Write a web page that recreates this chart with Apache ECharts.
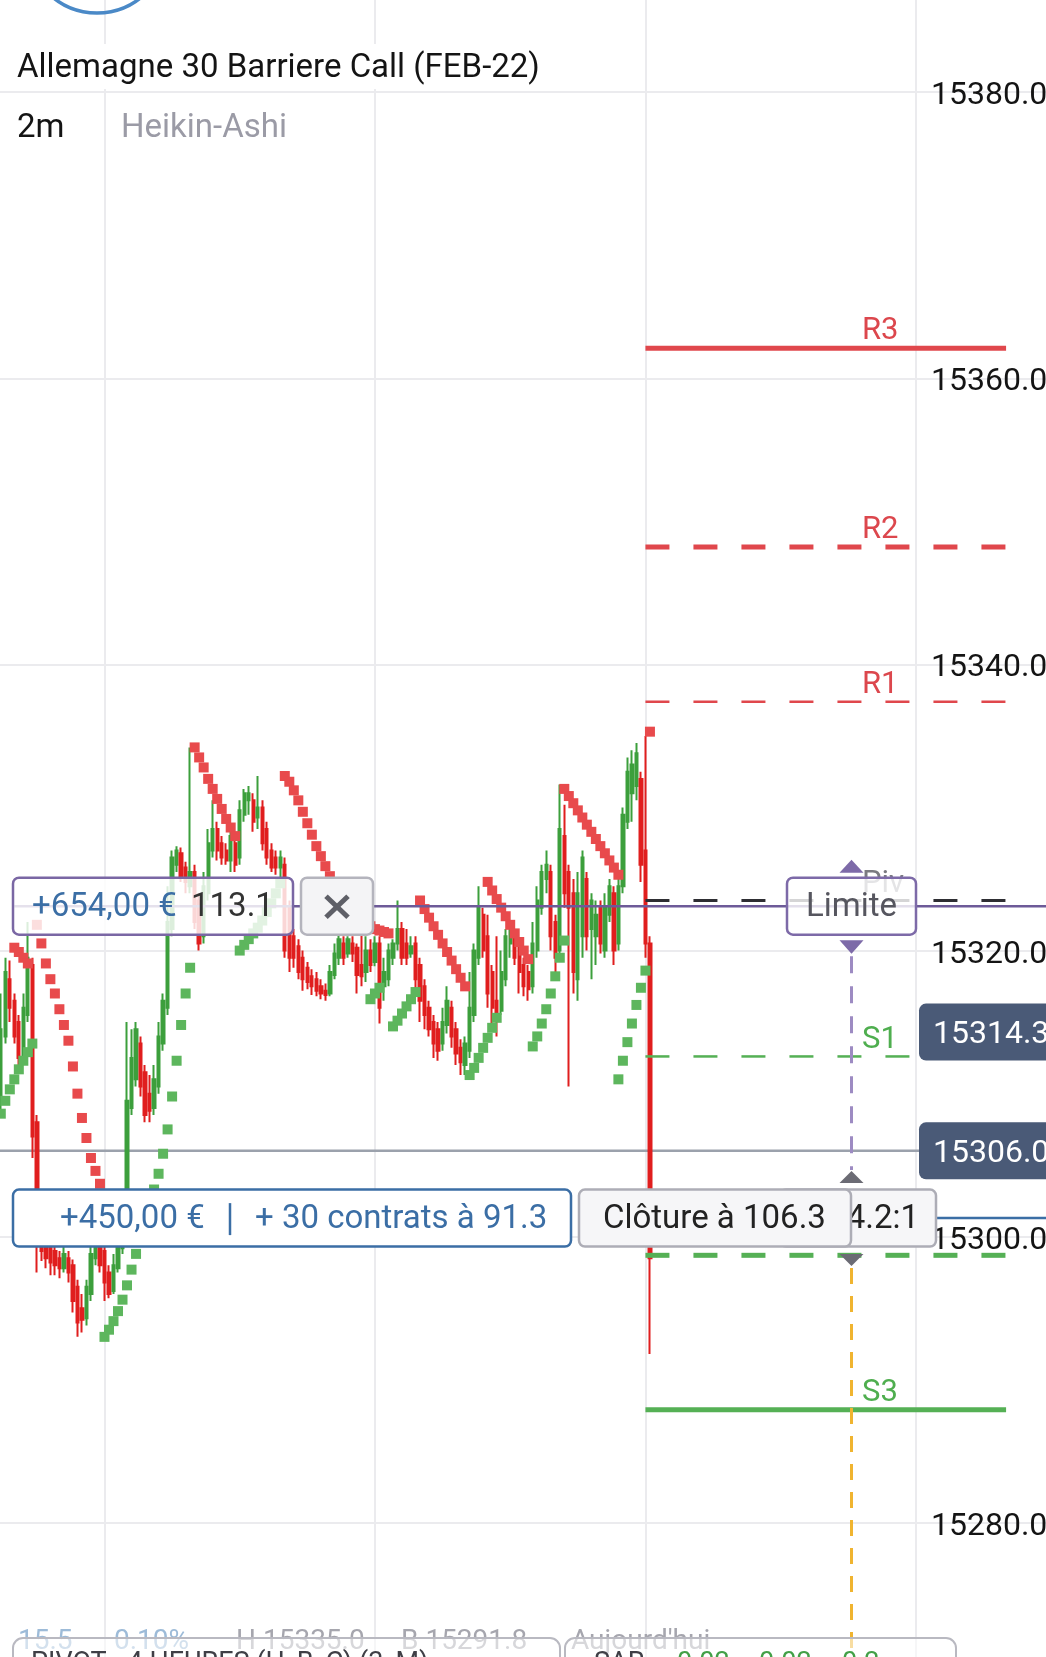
<!DOCTYPE html>
<html>
<head>
<meta charset="utf-8">
<script src="https://cdn.jsdelivr.net/npm/echarts@6/dist/echarts.min.js"></script>
<style>
  html, body { margin: 0; padding: 0; background: #fff; overflow: hidden; }
  #frame { position: relative; width: 1046px; height: 1657px; overflow: hidden; }
  #chart { position: absolute; left: -166px; top: -194px; width: 1240px; height: 2003px; }
</style>
</head>
<body>
<div id="frame"><div id="chart"></div></div>
<script>
// ---- Heikin-Ashi candles, 2-minute bars (oldest first) ----
const haOpen = [
  15309.5, 15314, 15318, 15316.5, 15315, 15312.5, 15315.5, 15319, 15308, 15302,
  15300, 15299.5, 15299, 15298.5, 15297.8, 15298.5, 15298, 15296.5, 15295, 15294.3,
  15296, 15298.5, 15299.5, 15299, 15297.5, 15296.2, 15297.8, 15299.2, 15302, 15309,
  15311, 15313.5, 15311.5, 15310, 15309, 15310.5, 15313.5, 15316, 15321.5, 15326,
  15326.8, 15325.8, 15324.5, 15325.5, 15323.5, 15321, 15324, 15327, 15328.5, 15327.5,
  15327, 15326.3, 15327.5, 15326.5, 15329.5, 15330.5, 15330.5, 15329.3, 15330, 15328.5,
  15327, 15326.5, 15325.8, 15326, 15323, 15321, 15320.3, 15319.5, 15318.8, 15318.2,
  15318, 15317.5, 15317.2, 15317, 15318.3, 15319.5, 15320.5, 15319.8, 15320.5, 15320.2,
  15319, 15318.5, 15320, 15319.2, 15320.5, 15317.5, 15318, 15319.5, 15320.5, 15321.5,
  15320.5, 15319.8, 15320.5, 15319, 15317.5, 15316, 15315, 15314.5, 15313.5, 15314.8,
  15316, 15314.5, 15313.2, 15312, 15313, 15315.5, 15319.5, 15322.5, 15321, 15318.5,
  15316.5, 15315.8, 15318, 15320.5, 15321, 15320, 15319, 15318.5, 15317.5, 15320,
  15323, 15325, 15325.5, 15322, 15320, 15328, 15325.5, 15324, 15318, 15321,
  15325, 15321.5, 15321, 15323, 15320, 15322.5, 15324, 15320.5, 15324.5, 15329,
  15331, 15331.5, 15332, 15327, 15320.5
];
const haClose = [
  15314.5, 15318.5, 15316, 15314, 15312.5, 15316, 15319.5, 15307, 15301, 15299,
  15298.5, 15298.2, 15298, 15297.8, 15298.8, 15297.5, 15295.5, 15294, 15294.2, 15296.5,
  15298.8, 15299.8, 15298, 15296.8, 15296, 15298, 15299.5, 15301.5, 15309.5, 15312.5,
  15314.5, 15310.5, 15308.5, 15308.8, 15311, 15314, 15316.5, 15322, 15326.5, 15327,
  15325.2, 15324.8, 15325.5, 15322, 15320.5, 15324.5, 15327.5, 15328.5, 15327, 15326.5,
  15326.3, 15328, 15326, 15329.8, 15331, 15331, 15329, 15330, 15327.5, 15326.5,
  15325.8, 15325.8, 15326.5, 15320, 15319.5, 15319.5, 15318.5, 15318, 15317.8, 15317.5,
  15317.2, 15317, 15316.9, 15318.5, 15319.8, 15320.8, 15319.5, 15320.8, 15319.8, 15318.3,
  15318.2, 15320, 15319, 15320.5, 15316, 15318.5, 15320, 15320.5, 15321.5, 15319.5,
  15319.5, 15320.3, 15318, 15316.5, 15315.5, 15314.5, 15313.5, 15313, 15315, 15316.5,
  15314, 15312.8, 15312.2, 15313.5, 15316, 15320, 15323, 15320, 15317, 15316,
  15315.5, 15318.5, 15321, 15321.3, 15319.5, 15318.5, 15317.5, 15317.3, 15320.5, 15323.5,
  15325.5, 15326, 15321, 15319.5, 15328.5, 15324, 15323, 15318.5, 15324, 15326.5,
  15321, 15323.5, 15322.5, 15320.5, 15323, 15324.5, 15320, 15324.5, 15329.5, 15332.5,
  15333, 15333.8, 15326, 15320.5, 15298.5
];
const haLow = [
  15308.5, 15313.5, 15315, 15313.5, 15311.5, 15312, 15315, 15305.5, 15297.5, 15298.3,
  15297.8, 15297.3, 15297.3, 15297.1, 15297.5, 15296.8, 15294.7, 15293, 15293.3, 15293.8,
  15295.5, 15298, 15297.5, 15295.5, 15295.7, 15296, 15297.5, 15298.8, 15301.5, 15308.5,
  15310.5, 15309.8, 15308, 15308, 15308.5, 15310, 15313, 15315.5, 15321, 15325.5,
  15324.8, 15324, 15324, 15321.5, 15320, 15320.5, 15323.5, 15326.5, 15326.3, 15326,
  15326, 15325.5, 15325.5, 15326, 15329, 15329.5, 15328.3, 15328.5, 15327, 15326,
  15325.5, 15325.3, 15325, 15319.5, 15318.5, 15318.8, 15318, 15317.2, 15317.3, 15316.9,
  15316.8, 15316.6, 15316.5, 15316.8, 15318, 15319, 15319, 15319.5, 15319.2, 15317,
  15317.5, 15317.8, 15318.5, 15318.9, 15314.9, 15316.5, 15317.5, 15319, 15320, 15319,
  15319, 15319.5, 15317, 15315, 15314.5, 15314, 15312.5, 15312.3, 15313, 15314.2,
  15313.2, 15312, 15311.3, 15311.3, 15312.5, 15315, 15319, 15319.5, 15316, 15314.5,
  15314, 15315.5, 15317.5, 15319.5, 15319, 15317, 15316.8, 15316.5, 15317, 15319.5,
  15322.5, 15324, 15320, 15318.5, 15319.5, 15323, 15310.5, 15317, 15316.5, 15319.5,
  15320, 15318, 15319, 15319.8, 15319.5, 15322, 15319, 15320, 15324, 15328.5,
  15329, 15330.5, 15324.8, 15319.5, 15291.8
];
const haHigh = [
  15317, 15319.5, 15319.3, 15317, 15315.5, 15317, 15322, 15319.5, 15308.5, 15302.5,
  15300.5, 15300, 15299.5, 15299, 15299.5, 15299, 15298.4, 15297, 15296, 15297,
  15299.5, 15301, 15300, 15299.5, 15298, 15298.8, 15300, 15302, 15315, 15314.5,
  15315, 15314, 15312, 15311.3, 15312, 15315, 15317, 15324.5, 15327, 15327.3,
  15327.2, 15326.2, 15334.2, 15326, 15324, 15325.5, 15328.5, 15330.5, 15329, 15328,
  15327.5, 15328.5, 15328, 15330.5, 15331.3, 15331.5, 15331, 15332.2, 15330.5, 15329,
  15327.5, 15327, 15327, 15326.5, 15323.5, 15321.5, 15320.8, 15320, 15319.2, 15318.7,
  15318.5, 15318, 15317.7, 15319, 15320.5, 15321.5, 15321, 15321, 15321, 15320.5,
  15321.3, 15321, 15320.8, 15321, 15321, 15319.5, 15320.5, 15320.8, 15323.5, 15322,
  15321.5, 15321, 15321, 15319.5, 15318, 15316.5, 15315.5, 15315, 15316, 15317.5,
  15316.5, 15315, 15313.8, 15314, 15318.5, 15320.5, 15324.5, 15323, 15322.5, 15319,
  15321, 15320, 15321.5, 15321.6, 15321, 15320.5, 15319.5, 15319, 15322, 15324.5,
  15326, 15327, 15326, 15322.5, 15331.6, 15330.2, 15326, 15325, 15325.5, 15327,
  15325.5, 15324, 15323.5, 15323.5, 15324, 15325, 15324.5, 15325, 15330, 15333.5,
  15334, 15334.5, 15332.5, 15335.0, 15321
];

// ---- Parabolic SAR dots: [bar number, value] ----
const sarBull = [
  [0, 15308.6], [1, 15309.5], [2, 15310.3], [3, 15311.0], [4, 15311.7], [5, 15312.3], [6, 15312.9], [7, 15313.5],
  [23, 15293.0], [24, 15293.5], [25, 15294.1], [26, 15294.8], [27, 15295.6], [28, 15296.6], [29, 15297.7],
  [30, 15298.8], [31, 15299.9], [32, 15301.0], [33, 15302.2], [34, 15303.3], [35, 15304.4], [36, 15305.8],
  [37, 15307.5], [38, 15309.8], [39, 15312.3], [40, 15314.8], [41, 15317.0], [42, 15318.8],
  [53, 15320.0], [54, 15320.4], [55, 15320.8], [56, 15321.2], [57, 15321.6], [58, 15322.1], [59, 15322.7],
  [60, 15323.3], [61, 15324.0], [62, 15324.7],
  [82, 15316.6], [83, 15317.0], [84, 15317.4],
  [87, 15314.7], [88, 15315.1], [89, 15315.6], [90, 15316.1], [91, 15316.6], [92, 15317.1],
  [104, 15311.3], [105, 15311.8], [106, 15312.5], [107, 15313.2], [108, 15313.9], [109, 15314.6], [110, 15315.3],
  [118, 15313.3], [119, 15314.0], [120, 15314.9], [121, 15315.9], [122, 15317.0], [123, 15318.2], [124, 15319.5], [125, 15320.7],
  [137, 15311.0], [138, 15312.3], [139, 15313.6], [140, 15314.9], [141, 15316.2], [142, 15317.4], [143, 15318.6]
];
const sarBear = [
  [3, 15320.2], [4, 15319.9], [5, 15319.5], [6, 15319.1],
  [8, 15321.8], [9, 15320.5], [10, 15319.1], [11, 15318.0], [12, 15317.0], [13, 15315.9], [14, 15314.8],
  [15, 15313.7], [16, 15311.9], [17, 15310.0], [18, 15308.3], [19, 15306.9], [20, 15305.5], [21, 15304.6], [22, 15303.7],
  [43, 15334.2], [44, 15333.5], [45, 15332.8], [46, 15332.0], [47, 15331.3], [48, 15330.6], [49, 15329.9],
  [50, 15329.2], [51, 15328.6], [52, 15328.0],
  [63, 15332.2], [64, 15331.8], [65, 15331.2], [66, 15330.5], [67, 15329.7], [68, 15328.9], [69, 15328.1],
  [70, 15327.3], [71, 15326.6], [72, 15325.9], [73, 15325.2], [74, 15324.6], [75, 15324.0], [76, 15323.5],
  [77, 15323.1], [78, 15322.7], [79, 15322.4], [80, 15322.1], [81, 15321.9], [82, 15321.7], [83, 15321.5],
  [84, 15321.4], [85, 15321.3], [86, 15321.2],
  [93, 15323.5], [94, 15322.9], [95, 15322.3], [96, 15321.7], [97, 15321.1], [98, 15320.5], [99, 15319.9],
  [100, 15319.3], [101, 15318.7], [102, 15318.1], [103, 15317.5],
  [108, 15324.8], [109, 15324.2], [110, 15323.6], [111, 15323.0], [112, 15322.4], [113, 15321.8],
  [114, 15321.2], [115, 15320.6], [116, 15320.0], [117, 15319.4],
  [125, 15331.3], [126, 15330.8], [127, 15330.3], [128, 15329.8], [129, 15329.3], [130, 15328.8], [131, 15328.3],
  [132, 15327.8], [133, 15327.3], [134, 15326.8], [135, 15326.3], [136, 15325.8], [137, 15325.3],
  [144, 15335.3]
];

// ---- Daily pivot levels (4h pivots, H/B/C) ----
const pivotNames  = ['R3', 'R2', 'R1', 'Piv', 'S1', 'S2', 'S3'];
const pivotValues = [15362.1, 15348.2, 15337.4, 15323.5, 15312.6, 15298.7, 15287.9];

// ---- Order / position levels ----
const lastPrice  = 15306.0;
const bidPrice   = 15314.3;
const limitPrice = 15323.1;
const entryPrice = 15301.3;

// ---- Texts ----
const titleText   = 'Allemagne 30 Barriere Call (FEB-22)';
const periodText  = '2m';
const styleText   = 'Heikin-Ashi';
const limitPnl    = '+654,00 €';
const limitQuote  = '113.1';
const entryPnl    = '+450,00 €';
const entryInfo   = '+ 30 contrats à 91.3';
const closeText   = 'Clôture à 106.3';
const ratioText   = '4.2:1';
const statsTexts  = ['15.5', '0.10%', 'H 15335.0', 'B 15291.8'];
const dayText     = "Aujourd'hui";
const pivotStudy  = 'PIVOT - 4 HEURES (H, B, C) (3, M)';
const sarStudy    = ['SAR', '0.02', '0.02', '0.2'];

// ---- Layout: the plot canvas is larger than the visible frame and offset into it ----
const W = 1046, H = 1657;          // visible frame
const OX = 166, OY = 194;          // frame origin inside the plot canvas
const CW = 1240, CH = 2003;        // plot canvas
const slotPx = 4.508;
const firstSlot = 37;              // x slot of the first bar
const sessionSlot = 180;           // new session start (pivots begin here)
const pivotEndSlot = 260;
const limitLineStart = 40;         // the limit line starts under its order tag
const xMin = 0, xStep = 60, xMax = CW / slotPx;
const yMin = 15260, yMax = 15400, yStep = 20;
const labelX = 931;                // left edge of price scale labels (frame px)

const GREEN = '#3c9f3c', RED = '#e01e1e';
const SAR_GREEN = '#5db65d', SAR_RED = '#e84a4c';
const FONT = 'Roboto';

const chart = echarts.init(document.getElementById('chart'), null, { renderer: 'canvas', width: CW, height: CH });

const candleData = haOpen.map((o, i) => [firstSlot + i, o, haClose[i], haLow[i], haHigh[i]]);
const toXY = arr => arr.map(([k, v]) => [firstSlot + k, v]);

const pivotStyle = name => {
  const red = '#e0474c', green = '#55b055';
  switch (name) {
    case 'R3': return { color: red, width: 5, type: 'solid' };
    case 'R2': return { color: red, width: 5, type: [24, 24] };
    case 'R1': return { color: red, width: 2.5, type: [24, 24] };
    case 'Piv': return { color: '#2e2e33', width: 3, type: [24, 24] };
    case 'S1': return { color: green, width: 2.5, type: [24, 24] };
    case 'S2': return { color: green, width: 5, type: [24, 24] };
    default: return { color: green, width: 5, type: 'solid' };
  }
};

const hLine = (value, style, z, from, to) => ({
  type: 'line', silent: true, z, symbol: 'none', showSymbol: false, animation: false,
  data: [[from, value], [to, value]], lineStyle: style
});

const series = [
  hLine(lastPrice, { color: '#9ba1ac', width: 2.5 }, 1, xMin, xMax),
  {
    type: 'candlestick', silent: true, z: 2, animation: false,
    data: candleData,
    encode: { x: 0, y: [1, 2, 3, 4] },
    barWidth: 2.8,
    itemStyle: { color: GREEN, color0: RED, borderColor: GREEN, borderColor0: RED, borderWidth: 2 }
  },
  {
    type: 'scatter', silent: true, z: 3, animation: false,
    symbol: 'rect', symbolSize: 10, data: toXY(sarBull),
    itemStyle: { color: SAR_GREEN, opacity: 1 }
  },
  {
    type: 'scatter', silent: true, z: 3, animation: false,
    symbol: 'rect', symbolSize: 10, data: toXY(sarBear),
    itemStyle: { color: SAR_RED, opacity: 1 }
  }
];
pivotNames.forEach((n, i) => series.push(hLine(pivotValues[i], pivotStyle(n), 4, sessionSlot, pivotEndSlot)));
series.push(hLine(limitPrice, { color: '#6d5a98', width: 2.5 }, 5, limitLineStart, xMax));

chart.setOption({
  animation: false,
  backgroundColor: '#ffffff',
  grid: { left: 0, right: 0, top: 0, bottom: 0, containLabel: false, outerBoundsMode: 'none' },
  xAxis: {
    type: 'value', min: xMin, max: xMax, interval: xStep,
    axisLine: { show: false }, axisTick: { show: false }, axisLabel: { show: false },
    splitLine: { show: true, lineStyle: { color: '#ebebee', width: 2 } }
  },
  yAxis: {
    type: 'value', position: 'right', min: yMin, max: yMax, interval: yStep,
    axisLine: { show: false }, axisTick: { show: false },
    splitLine: { show: true, lineStyle: { color: '#ebebee', width: 2 } },
    axisLabel: {
      inside: true, align: 'left', margin: CW - (OX + labelX),
      verticalAlign: 'top', lineHeight: 8,
      showMinLabel: false, showMaxLabel: false,
      color: '#141414', fontSize: 32, fontFamily: FONT,
      formatter: v => v.toFixed(1)
    }
  },
  series
});

// ---- Trading overlay (boxes, handles, labels), in frame coordinates ----
const py = v => chart.convertToPixel({ yAxisIndex: 0 }, v) - OY;
const yLim = py(limitPrice), yEnt = py(entryPrice), yBid = py(bidPrice), yLast = py(lastPrice);
const handleX = 851.5;

const text = (x, y, str, fill, size, extra = {}) => ({
  type: 'text', x, y, z: extra.z || 120, silent: true,
  style: {
    text: str, fill, fontSize: size, fontFamily: FONT, fontWeight: extra.weight || 'normal',
    align: extra.align || 'left', verticalAlign: extra.va || 'middle'
  }
});
const rect = (x, y, w, h, fill, stroke, z, r = 6, lw = 2.5) => ({
  type: 'rect', z, silent: true, shape: { x, y, width: w, height: h, r },
  style: { fill, stroke, lineWidth: lw }
});
const tri = (cx, yBase, yTip, half, fill, z) => ({
  type: 'polygon', z, silent: true,
  shape: { points: [[cx - half, yBase], [cx + half, yBase], [cx, yTip]] },
  style: { fill }
});
const vline = (x, y1, y2, stroke, dash, z) => ({
  type: 'line', z, silent: true, shape: { x1: x, y1, x2: x, y2 },
  style: { stroke, lineWidth: 3, lineDash: dash }
});
const seg = (x1, y1, x2, y2, stroke, lw, z) => ({
  type: 'line', z, silent: true, shape: { x1, y1, x2, y2 }, style: { stroke, lineWidth: lw }
});

const TS = 33;  // tag text size
const els = [];
// header
els.push({ type: 'circle', z: 120, silent: true, shape: { cx: 97, cy: -57, r: 70 }, style: { fill: 'none', stroke: '#4a89c7', lineWidth: 3.5 } });
els.push(rect(0, 44, 560, 45, '#ffffff', null, 110, 0, 0));
els.push(text(17, 69, titleText, '#141414', 33));
els.push(text(17, 129, periodText, '#141414', 33));
els.push(text(121, 129, styleText, '#9b9ba6', 33));

// pivot labels
pivotNames.forEach((n, i) => {
  const c = n[0] === 'R' ? '#dc474d' : (n[0] === 'S' ? '#4fae4f' : '#7a7a80');
  els.push(text(862, py(pivotValues[i]) - 1, n, c, 31, { va: 'bottom', z: 115 }));
});

// limit order handle
els.push(rect(13, yLim - 28.5, 280, 57, 'rgba(255,255,255,0.82)', '#7a67a4', 130));
els.push(text(32, yLim + 2, limitPnl, '#3b6ea5', TS, { z: 131 }));
els.push(text(191, yLim + 2, limitQuote, '#333333', TS, { z: 131 }));
els.push(rect(301, yLim - 28.5, 72, 57, '#f4f4f6', '#b4b4bd', 130));
els.push(seg(326, yLim - 10, 348, yLim + 11, '#5e5f67', 5, 131));
els.push(seg(348, yLim - 10, 326, yLim + 11, '#5e5f67', 5, 131));
els.push(rect(787, yLim - 28.5, 129, 57, 'rgba(255,255,255,0.8)', '#7d6aa8', 130));
els.push(text(handleX, yLim + 2, 'Limite', '#56565f', TS, { align: 'center', z: 131 }));
els.push(tri(handleX, yLim - 33.5, yLim - 46.5, 12, '#7d6aa8', 130));
els.push(tri(handleX, yLim + 34, yLim + 47.5, 12, '#7d6aa8', 130));
els.push(vline(handleX, yLim + 50, yEnt - 48, '#9d8bc2', [17, 13], 125));

// position handle
els.push(tri(handleX, yEnt - 35, yEnt - 47, 12, '#6b6b74', 130));
els.push(tri(handleX, yEnt + 36, yEnt + 48, 12, '#6b6b74', 130));
els.push(vline(handleX, yEnt + 50, H, '#f0b430', [16, 12], 125));
els.push(seg(936, yEnt, W, yEnt, '#3b6ea5', 2.5, 126));
els.push(rect(780, yEnt - 28.5, 156, 57, '#f6f6f8', '#adadb6', 130));
els.push(text(919, yEnt + 2, ratioText, '#222222', TS, { align: 'right', z: 131 }));
els.push(rect(13, yEnt - 28.5, 558, 57, '#ffffff', '#3b6ea5', 130));
els.push(text(60, yEnt + 2, entryPnl, '#3b6ea5', TS, { z: 131 }));
els.push(seg(230, yEnt - 15, 230, yEnt + 17, '#3b6ea5', 2.5, 131));
els.push(text(255, yEnt + 2, entryInfo, '#3b6ea5', TS, { z: 131 }));
els.push(rect(579, yEnt - 28.5, 272, 57, '#f6f6f8', '#adadb6', 132));
els.push(text(603, yEnt + 2, closeText, '#222222', TS, { z: 133 }));

// price tags on the scale
[[yBid, bidPrice], [yLast, lastPrice]].forEach(([y, v]) => {
  els.push(rect(919, y - 28.5, 140, 57, '#4a5a77', null, 140, 7, 0));
  els.push(text(labelX + 2, y + 3, v.toFixed(1), '#ffffff', 32, { z: 141 }));
});

// bottom info strip
const statX = [18, 114, 236, 401];
const statC = ['#9dbbd8', '#9dbbd8', '#a6a6ae', '#a6a6ae'];
statsTexts.forEach((s, i) => els.push(text(statX[i], 1642, s, statC[i], 28, { z: 150 })));
els.push(text(571, 1642, dayText, '#a6a6ae', 28, { z: 150 }));
els.push(rect(13, 1638, 547, 60, 'rgba(255,255,255,0.55)', '#b9b9c1', 151, 10, 2));
els.push(rect(565, 1638, 391, 60, 'rgba(255,255,255,0.55)', '#b9b9c1', 151, 10, 2));
els.push(text(31, 1651, pivotStudy, '#3f3f46', 27, { va: 'top', z: 152 }));
const sarX = [594, 677, 759, 842];
sarStudy.forEach((s, i) => els.push(text(sarX[i], 1651, s, i === 0 ? '#3f3f46' : '#43a047', 27, { va: 'top', z: 152 })));

chart.setOption({
  graphic: { elements: [{ type: 'group', x: OX, y: OY, silent: true, children: els }] }
});
</script>
</body>
</html>
